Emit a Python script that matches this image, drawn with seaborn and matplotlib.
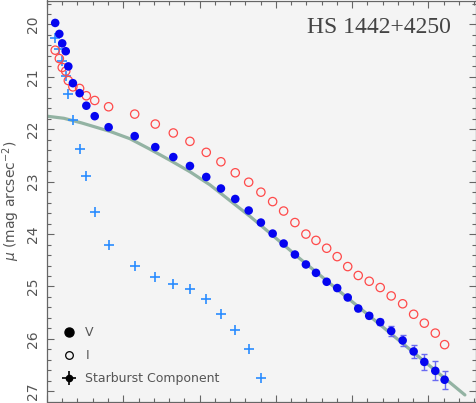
import numpy as np
import pandas as pd
import matplotlib
matplotlib.use("Agg")
import matplotlib.pyplot as plt
import seaborn as sns
from matplotlib.lines import Line2D
from matplotlib.ticker import MultipleLocator

# ---------------- data ----------------
radius = [0.54, 0.81, 1.00, 1.23, 1.40, 1.70, 2.14, 2.58, 3.13, 4.04,
          5.75, 7.10, 8.28, 9.37, 10.44, 11.40, 12.34, 13.22, 14.02, 14.79,
          15.51, 16.25, 16.97, 17.63, 18.33, 19.02, 19.71, 20.40, 21.12, 21.84,
          22.56, 23.31, 24.03, 24.73, 25.45, 26.06]

mu_V = [19.97, 20.18, 20.36, 20.51, 20.80, 21.12, 21.31, 21.55, 21.75, 21.96,
        22.13, 22.34, 22.53, 22.70, 22.91, 23.13, 23.33, 23.55, 23.78, 23.99,
        24.18, 24.39, 24.58, 24.74, 24.91, 25.03, 25.21, 25.42, 25.56, 25.68,
        25.85, 26.03, 26.24, 26.44, 26.61, 26.78]

err_V = [0.01, 0.01, 0.01, 0.01, 0.01, 0.01, 0.01, 0.01, 0.01, 0.01,
         0.01, 0.01, 0.01, 0.01, 0.01, 0.01, 0.01, 0.01, 0.01, 0.02,
         0.02, 0.02, 0.02, 0.02, 0.02, 0.03, 0.03, 0.04, 0.05, 0.06,
         0.09, 0.105, 0.13, 0.145, 0.18, 0.175]

mu_I = [20.49, 20.65, 20.82, 20.89, 21.07, 21.19, 21.22, 21.36, 21.45, 21.57,
        21.71, 21.90, 22.07, 22.23, 22.44, 22.62, 22.83, 23.01, 23.20, 23.38,
        23.56, 23.78, 24.00, 24.12, 24.27, 24.43, 24.62, 24.79, 24.90, 25.02,
        25.18, 25.33, 25.53, 25.70, 25.89, 26.11]

mu_SB = [20.26, 20.47, 20.70, 20.98, 21.33, 21.83, 22.38, 22.90, 23.58, 24.21,
         24.60, 24.81, 24.96, 25.05, 25.24, 25.53, 25.83, 26.19, 26.75]

fit_r = [0.00, 1.11, 2.29, 4.13, 5.44, 6.75, 8.06, 9.37, 10.68, 11.99,
         13.30, 14.61, 16.58, 21.17, 27.39]
fit_mu = [21.75, 21.79, 21.88, 22.04, 22.18, 22.38, 22.59, 22.81, 23.06, 23.36,
          23.66, 23.98, 24.47, 25.57, 27.07]

title_text = "HS 1442+4250"
legend_labels = ["V", "I", "Starburst Component"]
ylabel_text = r"$\mu$ (mag arcsec$^{-2}$)"

df_V = pd.DataFrame({"r": radius, "mu": mu_V, "err": err_V})
df_I = pd.DataFrame({"r": radius, "mu": mu_I})
df_SB = pd.DataFrame({"r": radius[:len(mu_SB)], "mu": mu_SB})
df_fit = pd.DataFrame({"r": fit_r, "mu": fit_mu})

# ---------------- style ----------------
sns.set_style("ticks")
plt.rcParams["font.family"] = ["DejaVu Sans"]
plt.rcParams["mathtext.fontset"] = "dejavusans"

gray = "#555555"
fig = plt.figure(figsize=(4.77, 4.03), dpi=100)
ax = fig.add_axes([46.5 / 477, 1.5 / 403, 430 / 477, 401 / 403])
ax.set_facecolor("#f4f4f4")

sns.lineplot(data=df_fit, x="r", y="mu", ax=ax, color="#93b3a3", linewidth=2.3,
             sort=False, estimator=None, zorder=1)

ax.errorbar(df_V["r"], df_V["mu"], yerr=df_V["err"], fmt="none",
            ecolor="#6a6af2", elinewidth=1.0, capsize=2.3, capthick=1.0, zorder=2)

sns.scatterplot(data=df_SB, x="r", y="mu", ax=ax, marker="+", s=55,
                color="#2a8cff", linewidth=1.2, zorder=3)
sns.scatterplot(data=df_I, x="r", y="mu", ax=ax, marker="o", s=36,
                facecolor="none", edgecolor="#ff4a4a", linewidth=0.9, zorder=3)
sns.scatterplot(data=df_V, x="r", y="mu", ax=ax, marker="o", s=38,
                color="#0505f0", edgecolor="none", linewidth=0, zorder=4)

ax.set_xlim(-0.03, 28.15)
ax.set_ylim(27.195, 19.542)

ax.xaxis.set_major_locator(MultipleLocator(5))
ax.xaxis.set_minor_locator(MultipleLocator(1))
ax.yaxis.set_major_locator(MultipleLocator(1))
ax.yaxis.set_minor_locator(MultipleLocator(0.2))

ax.tick_params(which="both", direction="in", top=True, right=True,
               bottom=True, left=True, color="#666666", width=0.8)
ax.tick_params(which="major", length=4.8)
ax.tick_params(which="minor", length=2.8)
ax.tick_params(axis="x", labelbottom=False)
ax.tick_params(axis="y", labelsize=10, labelcolor=gray, pad=5)
for lab in ax.get_yticklabels():
    lab.set_rotation(90)
    lab.set_va("center")

for sp in ax.spines.values():
    sp.set_color("#666666")
    sp.set_linewidth(0.9)
    sp.set_visible(True)

ax.set_xlabel("")
ax.set_ylabel(ylabel_text, fontsize=10, color=gray)
ax.yaxis.set_label_coords(-0.058, 0.5)

ax.text(0.940, 0.918, title_text, transform=ax.transAxes, ha="right",
        va="baseline", fontsize=17, color="#444444", family="Liberation Serif")

h_v = Line2D([], [], ls="none", marker="o", ms=6.5, color="black")
h_i = Line2D([], [], ls="none", marker="o", ms=5.5, mfc="none", mec="black", mew=0.9)
h_sb1 = Line2D([], [], ls="none", marker="+", ms=10, mew=1.2, color="black")
h_sb2 = Line2D([], [], ls="none", marker="o", ms=4.5, color="black")
leg = ax.legend([h_v, h_i, (h_sb1, h_sb2)], legend_labels, loc="lower left",
                bbox_to_anchor=(0.038, 0.040), frameon=False, fontsize=9,
                handlelength=1.0, handletextpad=0.8, labelspacing=0.80,
                borderpad=0, borderaxespad=0)
for t in leg.get_texts():
    t.set_color(gray)

fig.savefig("out.png", dpi=100)
